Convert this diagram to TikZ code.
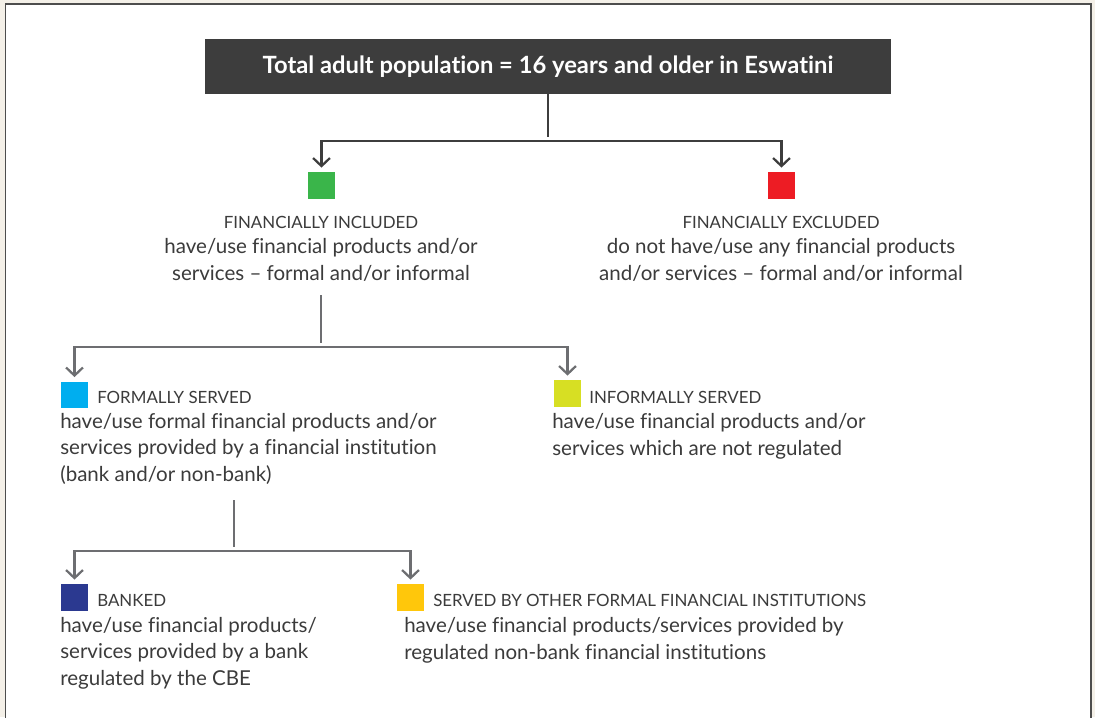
\documentclass[tikz,border=0pt]{standalone}
\usepackage{fontspec}
\setmainfont{Lato}[Ligatures=NoCommon]
\usetikzlibrary{arrows.meta,positioning}

\definecolor{ink}{HTML}{3B3B3B}
\definecolor{titlegray}{HTML}{3D3D3D}
\definecolor{linkgray}{HTML}{6D6E71}
\definecolor{paper}{HTML}{F4F0E8}
\definecolor{framegray}{HTML}{4D4D4D}
\definecolor{cincl}{HTML}{3AB54A}
\definecolor{cexcl}{HTML}{ED1C24}
\definecolor{cformal}{HTML}{00AEEF}
\definecolor{cinformal}{HTML}{D7DF23}
\definecolor{cbank}{HTML}{2B3990}
\definecolor{cother}{HTML}{FFC70B}

\begin{document}
\begin{tikzpicture}[
  x=0.025cm, y=-0.025cm,
  title/.style={rectangle, fill=titlegray, text=white, minimum width=17.15cm, minimum height=1.375cm, font=\bfseries\fontsize{16.9}{20}\selectfont},
  swatch/.style={rectangle, minimum size=0.67cm, inner sep=0pt},
  head/.style={inner sep=0pt, text=ink, font=\fontsize{12}{14}\selectfont},
  desc/.style={inner sep=0pt, text=ink, font=\fontsize{14.6}{18.5}\selectfont},
  link/.style={line width=1.6pt, draw=linkgray, shorten >=3pt, -{Straight Barb[length=0.2cm, width=0.42cm]}},
  toplink/.style={link, draw=titlegray}
]

% Page and frame
\useasboundingbox (0,0) rectangle (1095,717);
\clip (0,0) rectangle (1095,717);
\fill[paper] (0,0) rectangle (1095,717);
\draw[line width=1.4pt, draw=framegray, fill=white] (5.5,740) -- (5.5,4) -- (1091,4) -- (1091,740);

\node[title] (total) at (548,66.5) {Total adult population = 16 years and older in Eswatini};

% First split (desc nodes sit on the baseline of their last line)
\node[swatch, fill=cincl] (incl) at (321.5,185.5) {};
\node[head, anchor=base] (inclhead) at (321,228) {FINANCIALLY INCLUDED};
\node[desc, anchor=base, align=center] (incldesc) at (321,280) {have/use financial products and/or\\services -- formal and/or informal};

\node[swatch, fill=cexcl] (excl) at (781.5,185.5) {};
\node[head, anchor=base] (exclhead) at (781,228) {FINANCIALLY EXCLUDED};
\node[desc, anchor=base, align=center] (excldesc) at (781,280) {do not have/use any financial products\\and/or services -- formal and/or informal};

% Second split
\node[swatch, fill=cformal] (formal) at (74.5,395) {};
\node[head, anchor=base west] (formalhead) at (97,403) {FORMALLY SERVED};
\node[desc, anchor=base west, align=left] (formaldesc) at (60,481) {have/use formal financial products and/or\\services provided by a financial institution\\(bank and/or non-bank)};

\node[swatch, fill=cinformal] (informal) at (567.5,393.5) {};
\node[head, anchor=base west] (informalhead) at (589,403) {INFORMALLY SERVED};
\node[desc, anchor=base west, align=left] (informaldesc) at (552,455) {have/use financial products and/or\\services which are not regulated};

% Third split
\node[swatch, fill=cbank] (bank) at (74.5,597.5) {};
\node[head, anchor=base west] (bankhead) at (97,606) {BANKED};
\node[desc, anchor=base west, align=left] (bankdesc) at (60,685) {have/use financial products/\\services provided by a bank\\regulated by the CBE};

\node[swatch, fill=cother] (other) at (410.5,597.5) {};
\node[head, anchor=base west] (otherhead) at (433,606) {SERVED BY OTHER FORMAL FINANCIAL INSTITUTIONS};
\node[desc, anchor=base west, align=left] (otherdesc) at (404,659) {have/use financial products/services provided by\\regulated non-bank financial institutions};

% Branch points
\coordinate (split1) at (548,141);
\coordinate (stem2) at (321,295);
\coordinate (split2) at (321,347);
\coordinate (stem3) at (234,500);
\coordinate (split3) at (234,551);

% Connectors
\draw[toplink, -] (total.south) -- (split1);
\draw[toplink] (split1) -| (incl);
\draw[toplink] (split1) -| (excl);

\draw[link, -] (stem2) -- (split2);
\draw[link] (split2) -| (formal);
\draw[link] (split2) -| (informal);

\draw[link, -] (stem3) -- (split3);
\draw[link] (split3) -| (bank);
\draw[link] (split3) -| (other);

\end{tikzpicture}
\end{document}
